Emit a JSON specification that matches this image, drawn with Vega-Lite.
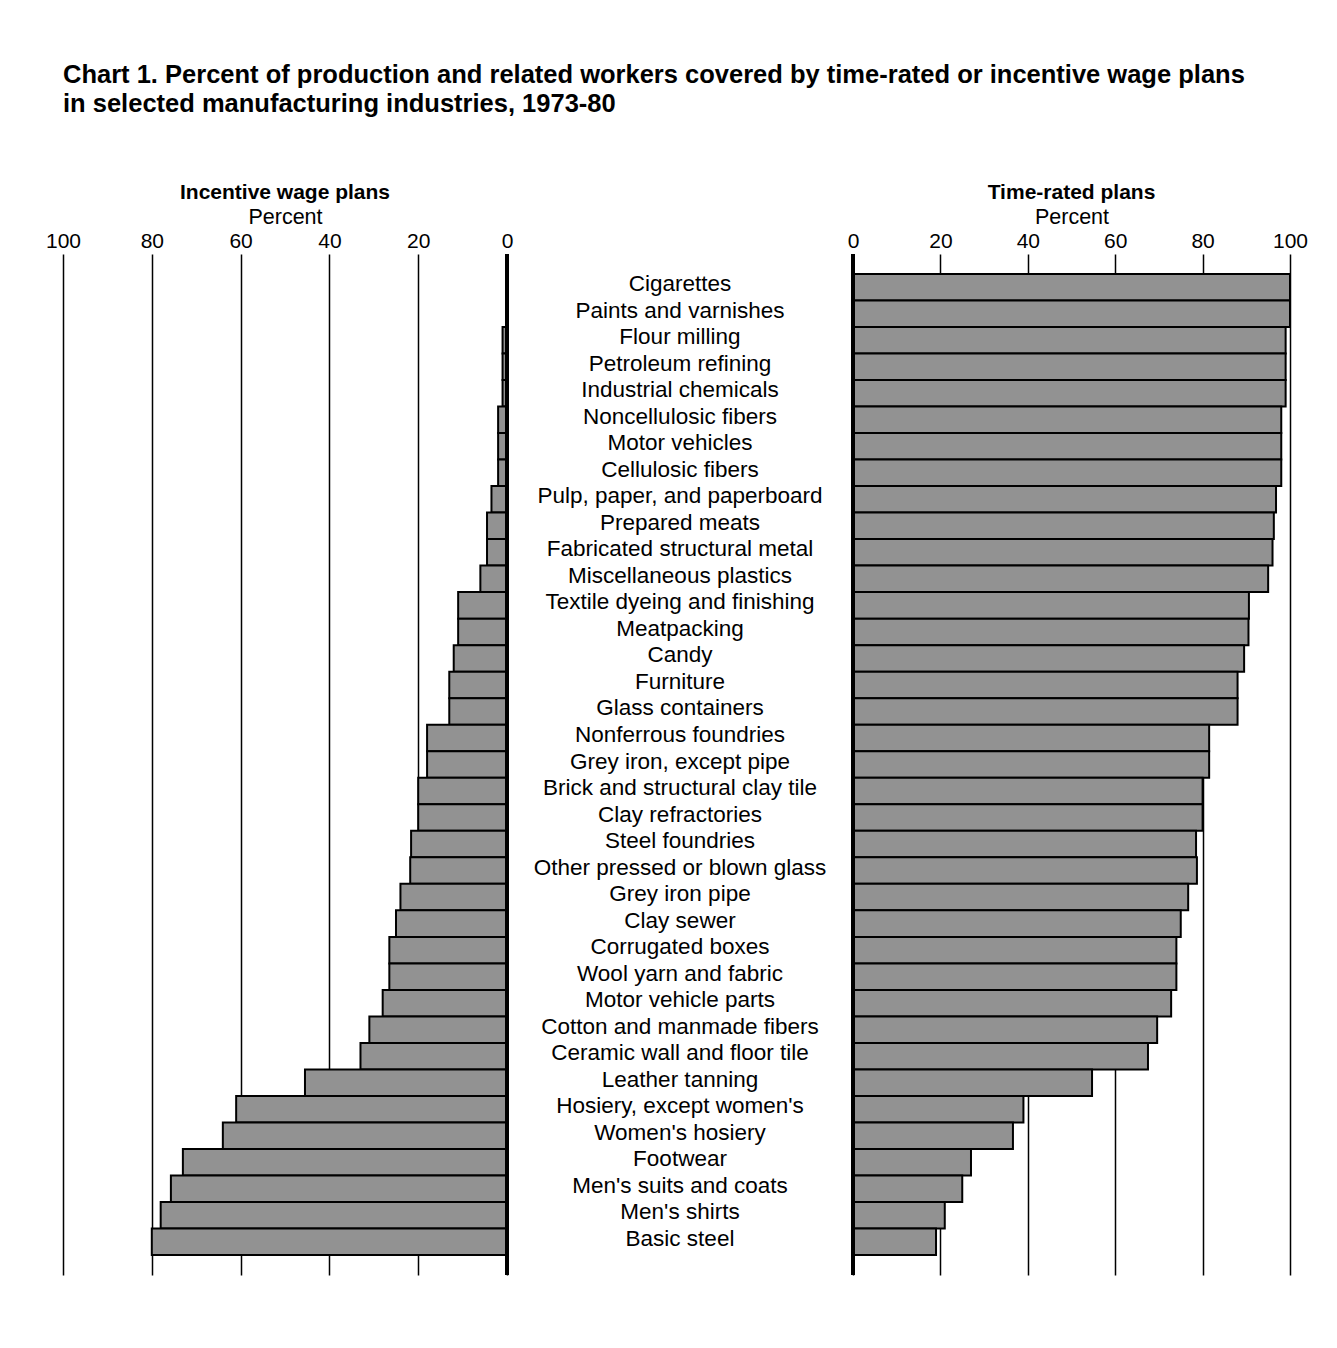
{
  "$schema": "https://vega.github.io/schema/vega-lite/v6.json",
  "padding": {"top": 62, "left": 45, "right": 20, "bottom": 50},
  "background": "white",
  "bounds": "flush",
  "spacing": 0,
  "title": {
    "text": ["Chart 1. Percent of production and related workers covered by time-rated or incentive wage plans", " in selected manufacturing industries, 1973-80"],
    "anchor": "start",
    "frame": "group",
    "font": "Liberation Sans",
    "fontSize": 25.5,
    "fontWeight": "bold",
    "color": "black",
    "lineHeight": 29,
    "offset": 65
  },
  "datasets": {
    "d": [
      {"industry": "Cigarettes", "incentive": 0, "time": 100},
      {"industry": "Paints and varnishes", "incentive": 0, "time": 100},
      {"industry": "Flour milling", "incentive": 1, "time": 99},
      {"industry": "Petroleum refining", "incentive": 1, "time": 99},
      {"industry": "Industrial chemicals", "incentive": 1, "time": 99},
      {"industry": "Noncellulosic fibers", "incentive": 2, "time": 98},
      {"industry": "Motor vehicles", "incentive": 2, "time": 98},
      {"industry": "Cellulosic fibers", "incentive": 2, "time": 98},
      {"industry": "Pulp, paper, and paperboard", "incentive": 3.5, "time": 96.8},
      {"industry": "Prepared meats", "incentive": 4.5, "time": 96.3},
      {"industry": "Fabricated structural metal", "incentive": 4.5, "time": 96},
      {"industry": "Miscellaneous plastics", "incentive": 6, "time": 95},
      {"industry": "Textile dyeing and finishing", "incentive": 11, "time": 90.6},
      {"industry": "Meatpacking", "incentive": 11, "time": 90.5},
      {"industry": "Candy", "incentive": 12, "time": 89.5},
      {"industry": "Furniture", "incentive": 13, "time": 88},
      {"industry": "Glass containers", "incentive": 13, "time": 88},
      {"industry": "Nonferrous foundries", "incentive": 18, "time": 81.5},
      {"industry": "Grey iron, except pipe", "incentive": 18, "time": 81.5},
      {"industry": "Brick and structural clay tile", "incentive": 20, "time": 80},
      {"industry": "Clay refractories", "incentive": 20, "time": 80},
      {"industry": "Steel foundries", "incentive": 21.6, "time": 78.5},
      {"industry": "Other pressed or blown glass", "incentive": 21.8, "time": 78.7},
      {"industry": "Grey iron pipe", "incentive": 24, "time": 76.7},
      {"industry": "Clay sewer", "incentive": 25, "time": 75},
      {"industry": "Corrugated boxes", "incentive": 26.5, "time": 74},
      {"industry": "Wool yarn and fabric", "incentive": 26.5, "time": 74},
      {"industry": "Motor vehicle parts", "incentive": 28, "time": 72.8},
      {"industry": "Cotton and manmade fibers", "incentive": 31, "time": 69.6},
      {"industry": "Ceramic wall and floor tile", "incentive": 33, "time": 67.5},
      {"industry": "Leather tanning", "incentive": 45.5, "time": 54.7},
      {"industry": "Hosiery, except women's", "incentive": 61, "time": 39},
      {"industry": "Women's hosiery", "incentive": 64, "time": 36.6},
      {"industry": "Footwear", "incentive": 73, "time": 27},
      {"industry": "Men's suits and coats", "incentive": 75.7, "time": 25},
      {"industry": "Men's shirts", "incentive": 78, "time": 21},
      {"industry": "Basic steel", "incentive": 80, "time": 19}
    ]
  },
  "hconcat": [
    {
      "width": 444,
      "height": 1021,
      "data": {"name": "d"},
      "title": {"text": "Incentive wage plans", "fontSize": 21, "fontWeight": "bold", "font": "Liberation Sans", "color": "black", "offset": 3},
      "layer": [
        {
          "mark": {"type": "bar", "color": "#929292", "stroke": "black", "strokeWidth": 2},
          "encoding": {
            "y": {"field": "industry", "type": "nominal", "sort": null, "axis": null, "scale": {"type": "band", "paddingInner": 0, "paddingOuter": 0.75}},
            "x": {"field": "incentive", "type": "quantitative", "scale": {"domain": [0, 100], "reverse": true, "nice": false},
                  "axis": {"orient": "top", "values": [0, 20, 40, 60, 80, 100], "title": "Percent"}}
          }
        },
        {
          "mark": {"type": "rule", "color": "black", "strokeWidth": 4},
          "encoding": {"x": {"datum": 0}}
        }
      ]
    },
    {
      "width": 346,
      "height": 1021,
      "data": {"name": "d"},
      "mark": {"type": "text", "fontSize": 22.5, "font": "Liberation Sans", "color": "black", "align": "center", "baseline": "middle", "dy": -3},
      "encoding": {
        "y": {"field": "industry", "type": "nominal", "sort": null, "axis": null, "scale": {"type": "band", "paddingInner": 0, "paddingOuter": 0.75}},
        "text": {"field": "industry"}
      }
    },
    {
      "width": 437,
      "height": 1021,
      "data": {"name": "d"},
      "title": {"text": "Time-rated plans", "fontSize": 21, "fontWeight": "bold", "font": "Liberation Sans", "color": "black", "offset": 3},
      "layer": [
        {
          "mark": {"type": "bar", "color": "#929292", "stroke": "black", "strokeWidth": 2},
          "encoding": {
            "y": {"field": "industry", "type": "nominal", "sort": null, "axis": null, "scale": {"type": "band", "paddingInner": 0, "paddingOuter": 0.75}},
            "x": {"field": "time", "type": "quantitative", "scale": {"domain": [0, 100], "nice": false},
                  "axis": {"orient": "top", "values": [0, 20, 40, 60, 80, 100], "title": "Percent"}}
          }
        },
        {
          "mark": {"type": "rule", "color": "black", "strokeWidth": 4},
          "encoding": {"x": {"datum": 0}}
        }
      ]
    }
  ],
  "config": {
    "view": {"stroke": null},
    "font": "Liberation Sans",
    "axis": {
      "grid": true,
      "gridColor": "black",
      "gridWidth": 1.5,
      "gridOpacity": 1,
      "domain": false,
      "ticks": false,
      "labelFlush": false,
      "labelFontSize": 21,
      "labelColor": "black",
      "labelFont": "Liberation Sans",
      "labelPadding": 3,
      "titleFontSize": 21.5,
      "titleFontWeight": "normal",
      "titleColor": "black",
      "titleFont": "Liberation Sans",
      "titlePadding": 2
    }
  }
}
